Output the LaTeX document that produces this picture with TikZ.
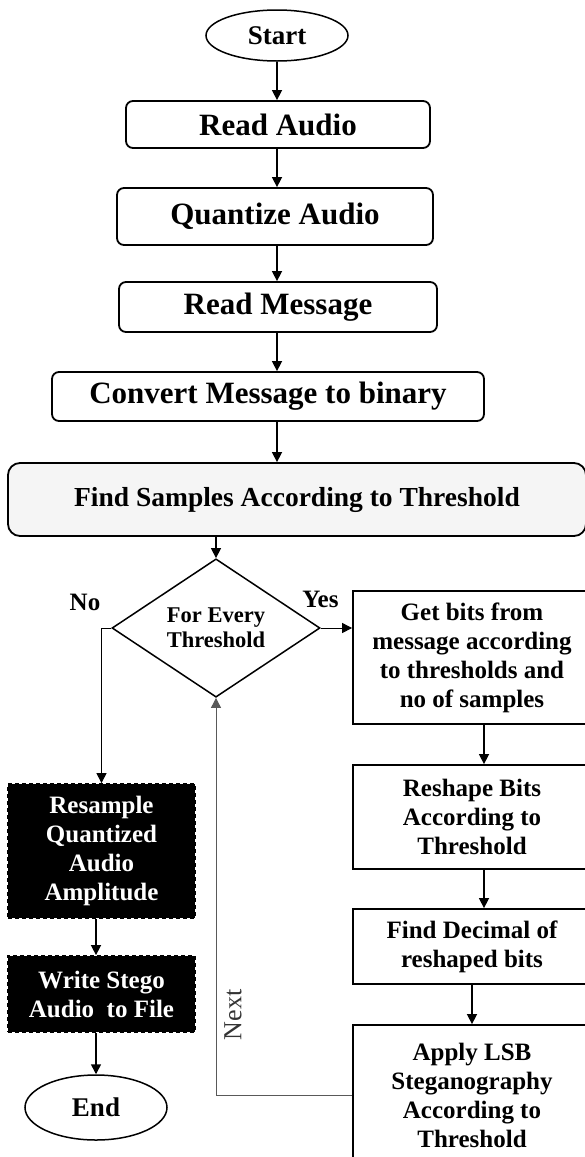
\documentclass[tikz,border=0pt]{standalone}
\usepackage{fontspec}
\setmainfont{Liberation Serif}
\usetikzlibrary{shapes.geometric,arrows.meta}

\begin{document}
\begin{tikzpicture}[x=1pt,y=-1pt,
  every node/.append style={inner sep=0pt, align=center},
  rbox/.style={draw, line width=1.8pt, rounded corners=7pt, font=\bfseries\fontsize{31}{34}\selectfont},
  term/.style={draw, ellipse, line width=1.5pt, font=\bfseries\fontsize{27}{30}\selectfont},
  sbox/.style={draw, line width=1.8pt, font=\bfseries\fontsize{25}{29}\selectfont},
  dbox/.style={sbox, fill=black, text=white, dash pattern=on 4pt off 3pt},
  dec/.style={draw, diamond, line width=1.5pt, font=\bfseries\fontsize{22.5}{25}\selectfont},
  lbl/.style={font=\bfseries\fontsize{25}{28}\selectfont},
  arr/.style={-{Triangle[length=10pt,width=10pt]}, line width=1.5pt},
  thinarr/.style={arr, line width=1pt},
  nextline/.style={thinarr, draw=black!65},
]
\useasboundingbox (0,0) rectangle (585,1157);
\coordinate (col) at (277,0);

\node[term, minimum width=142, minimum height=51] (start) at (277,35.5) {Start};
\node[rbox, minimum width=304, minimum height=47] (readaudio) at (278,124.5) {Read Audio};
\node[rbox, minimum width=316, minimum height=57] (quant) at (275,216.5) {Quantize Audio};
\node[rbox, minimum width=318, minimum height=50] (readmsg) at (278,307) {Read Message};
\node[rbox, minimum width=432, minimum height=49] (convert) at (268,396.5) {Convert Message to binary};
\node[rbox, fill=gray!8, rounded corners=12pt, minimum width=578, minimum height=73,
  font=\bfseries\fontsize{27.5}{30}\selectfont] (findsamp) at (297,499.5) {Find Samples According to Threshold};

\node[dec, minimum width=208, minimum height=106] (every) at (216,628) {For Every\\Threshold};
\node[lbl] (no) at (85,602) {No};
\node[lbl] (yes) at (320.5,599) {Yes};

\node[sbox, minimum width=238, minimum height=133] (getbits) at (472,657.5) {Get bits from\\message according\\to thresholds and\\no of samples};
\node[sbox, minimum width=238, minimum height=104] (reshape) at (472,817) {Reshape Bits\\According to\\Threshold};
\node[sbox, minimum width=238, minimum height=75] (finddec) at (472,946.5) {Find Decimal of\\reshaped bits};
\node[sbox, minimum width=238, minimum height=140] (apply) at (472,1095) {Apply LSB\\Steganography\\According to\\Threshold};

\node[dbox, minimum width=187, minimum height=134] (resample) at (101.5,851) {Resample\\Quantized\\Audio\\Amplitude};
\node[dbox, minimum width=187, minimum height=76] (write) at (101.5,994) {Write Stego\\Audio\ \ to File};
\node[term, minimum width=142, minimum height=65] (end) at (96,1107.5) {End};

\node[font=\fontsize{26}{28}\selectfont, rotate=90, text=black!80] (next) at (233,1015) {Next};

\foreach \a/\b in {start/readaudio, readaudio/quant, quant/readmsg, readmsg/convert, convert/findsamp}
  \draw[arr] (col |- \a.south) -- (col |- \b.north);
\draw[arr] (every.north |- findsamp.south) -- (every.north);
\draw[thinarr] (every.east) -- (every.east -| getbits.west);
\draw[thinarr] (every.west) -| (resample.north);
\draw[arr] ([xshift=12]getbits.south) -- ([xshift=12]getbits.south |- reshape.north);
\draw[arr] ([xshift=12]reshape.south) -- ([xshift=12]reshape.south |- finddec.north);
\draw[arr] (finddec) -- (apply);
\draw[arr] (end.north |- resample.south) -- (end.north |- write.north);
\draw[arr] (end.north |- write.south) -- (end.north);
\draw[nextline] (apply.west) -| (every.south);
\end{tikzpicture}
\end{document}
